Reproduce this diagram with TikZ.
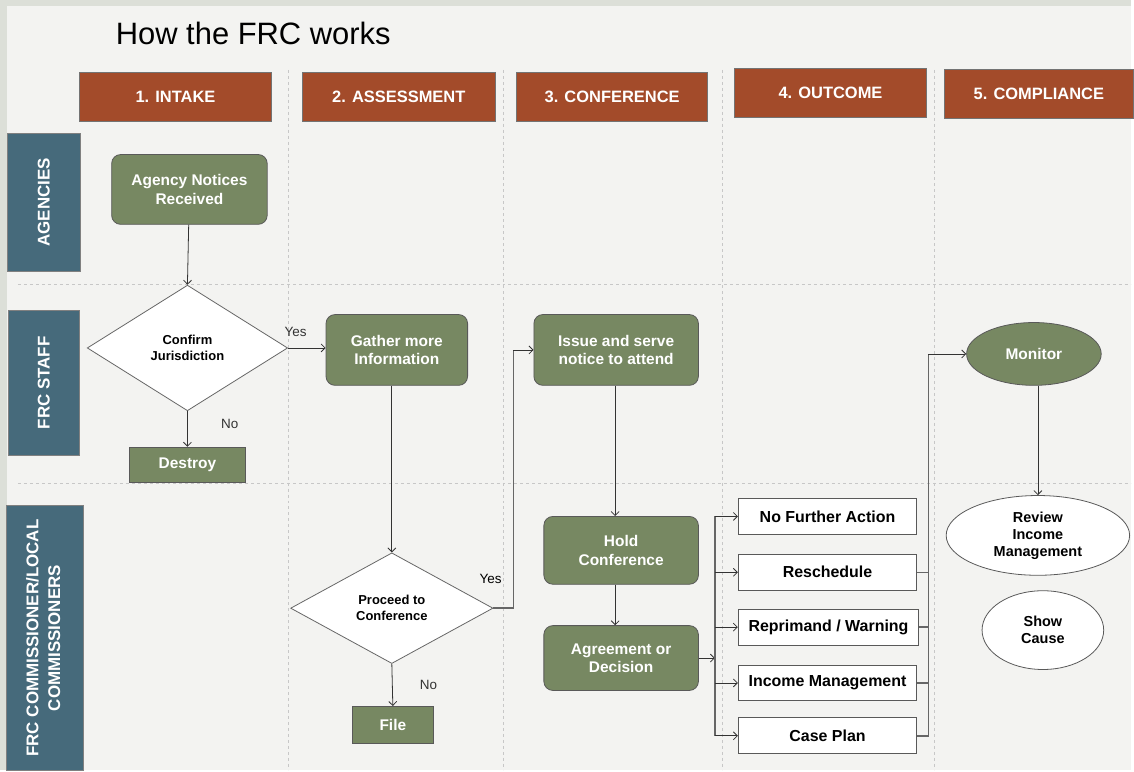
\documentclass[tikz,border=0pt]{standalone}
\usepackage{fontspec}
\setmainfont{Liberation Sans}
\usepackage{tikz}
\usetikzlibrary{shapes.geometric,arrows.meta}
\definecolor{frame}{HTML}{DCDFD8}
\definecolor{panel}{HTML}{F3F3F1}
\definecolor{rust}{HTML}{A34B2A}
\definecolor{lane}{HTML}{466A7B}
\definecolor{olive}{HTML}{778862}

\begin{document}
\begin{tikzpicture}[x=1pt,y=-1pt]

  \tikzstyle{phase}=[rectangle,fill=rust,draw=black!55,line width=0.8pt,text=white,font=\bfseries\fontsize{16.5}{19}\selectfont,minimum height=49pt]
  \tikzstyle{lanebox}=[rectangle,fill=lane,draw=black!50,line width=0.8pt,text=white,font=\bfseries\fontsize{17}{22}\selectfont,align=center]
  \tikzstyle{task}=[rectangle,rounded corners=9pt,fill=olive,draw=black!65,line width=0.8pt,text=white,font=\bfseries\fontsize{15.5}{18.5}\selectfont,align=center]
  \tikzstyle{endbox}=[rectangle,fill=olive,draw=black!65,line width=0.8pt,text=white,font=\bfseries\fontsize{15.5}{18.5}\selectfont]
  \tikzstyle{decide}=[diamond,fill=white,draw=black!60,line width=0.8pt,inner sep=0pt,font=\bfseries\fontsize{13}{16}\selectfont,align=center]
  \tikzstyle{result}=[rectangle,fill=white,draw=black!65,line width=0.9pt,font=\bfseries\fontsize{16}{19}\selectfont,minimum height=36pt]
  \tikzstyle{oval}=[ellipse,draw=black!65,line width=0.8pt,inner sep=0pt,font=\bfseries\fontsize{14.5}{17}\selectfont,align=center]
  \tikzstyle{sep}=[dashed,black!22,line width=0.6pt]
  \tikzstyle{arr}=[black!80,line width=0.8pt,-{Straight Barb[length=4pt,width=8pt]}]
  \tikzstyle{link}=[black!60,line width=1.4pt]
  \tikzstyle{answer}=[font=\fontsize{13.5}{16}\selectfont]

  \fill[frame] (0,0) rectangle (1134,772);
  \fill[panel] (7,6) rectangle (1134,772);

  %\draw[step=100,gray,very thin] (0,0) grid (1134,772);

  \node (title) at (254,34) {\fontsize{31}{34}\selectfont How the FRC works};

  \draw[sep] (18,285) -- (1134,285);
  \draw[sep] (18,485) -- (1134,485);
  \draw[sep] (289,70) -- (289,772);
  \draw[sep] (505,70) -- (505,772);
  \draw[sep] (724,70) -- (724,772);
  \draw[sep] (937,70) -- (937,772);

  \node[phase,minimum width=192pt] (intake) at (176,97) {1. INTAKE};
  \node[phase,minimum width=194pt] (assess) at (400,97) {2. ASSESSMENT};
  \node[phase,minimum width=192pt] (confer) at (614,97) {3. CONFERENCE};
  \node[phase,minimum width=193pt] (outcome) at (833,93) {4. OUTCOME};
  \node[phase,minimum width=190pt] (comply) at (1042,94) {5. COMPLIANCE};

  \node[lanebox,minimum width=73pt,minimum height=138pt] (agencies) at (44,203) {\rotatebox{90}{AGENCIES}};
  \node[lanebox,minimum width=72pt,minimum height=146pt] (staff) at (44,384) {\rotatebox{90}{FRC STAFF}};
  \node[lanebox,minimum width=78pt,minimum height=266pt] (commish) at (45,640) {\rotatebox{90}{\begin{tabular}{@{}c@{}}FRC COMMISSIONER/LOCAL\\COMMISSIONERS\end{tabular}}};

  \node[task,minimum width=156pt,minimum height=70pt] (agency) at (190,190) {Agency Notices\\Received};
  \node[decide,minimum width=201pt,minimum height=126pt] (confirm) at (188,349) {Confirm\\Jurisdiction};
  \node[endbox,minimum width=117pt,minimum height=35pt] (destroy) at (188,466) {Destroy};
  \node[task,minimum width=142pt,minimum height=71pt] (gather) at (398,351) {Gather more\\Information};
  \node[decide,minimum width=203pt,minimum height=111pt] (proceed) at (393,610) {Proceed to\\Conference};
  \node[endbox,minimum width=81pt,minimum height=37pt] (file) at (394,727) {File};
  \node[task,minimum width=165pt,minimum height=71pt] (issue) at (618,351) {Issue and serve\\notice to attend};
  \node[task,minimum width=155pt,minimum height=68pt] (hold) at (623,552) {Hold\\Conference};
  \node[task,minimum width=155pt,minimum height=65pt] (agree) at (623,660) {Agreement or\\Decision};

  \node[result,minimum width=179pt] (nfa) at (830,518) {No Further Action};
  \node[result,minimum width=179pt] (resched) at (830,574) {Reschedule};
  \node[result,minimum width=181pt] (repri) at (831,629) {Reprimand / Warning};
  \node[result,minimum width=179pt] (income) at (830,685) {Income Management};
  \node[result,minimum width=179pt] (plan) at (830,738) {Case Plan};

  \node[oval,fill=olive,text=white,minimum width=135pt,minimum height=63pt,font=\bfseries\fontsize{15.5}{18}\selectfont] (monitor) at (1037,355) {Monitor};
  \node[oval,fill=white,minimum width=184pt,minimum height=80pt] (review) at (1041,537) {Review\\Income\\Management};
  \node[oval,fill=white,minimum width=122pt,minimum height=79pt] (show) at (1046,632) {Show\\Cause};

  \coordinate (yesbus) at (515,351);
  \coordinate (bustop) at (717,518);
  \coordinate (busbot) at (717,738);
  \coordinate (monbus) at (931,355);

  \draw[arr] (agency) -- (confirm.north);
  \draw[arr] (confirm.east) -- node[answer,pos=0.2,above=8pt]{Yes} (confirm.east -| gather.west);
  \draw[arr] (confirm.south) -- node[answer,right=30pt,yshift=5pt]{No} (destroy.north);
  \draw[arr] (gather.south -| proceed.north) -- (proceed.north);
  \draw[arr] (proceed.south) -- node[answer,right=24pt]{No} (file.north);
  \draw[link] (proceed.east) -| (yesbus);
  \draw[arr] (yesbus) -- (issue.west);
  \node[answer] (yes2) at (492,581) {Yes};
  \draw[arr] (issue.south -| 617,0) -- (hold.north -| 617,0);
  \draw[arr] (hold.south -| 617,0) -- (agree.north -| 617,0);

  \draw[arr] (agree.east) -- (agree.east -| bustop);
  \draw[link] (bustop) -- (busbot);
  \foreach \o in {nfa,resched,repri,income,plan}
    \draw[arr] (\o.west -| bustop) -- (\o.west);

  \foreach \o in {resched,repri,income}
    \draw[link] (\o.east) -- (\o.east -| monbus);
  \draw[link] (plan.east) -| (monbus);
  \draw[arr] (monbus) -- (monitor.west);
  \draw[arr] (monitor.south -| 1041,0) -- (review.north);

\end{tikzpicture}
\end{document}
